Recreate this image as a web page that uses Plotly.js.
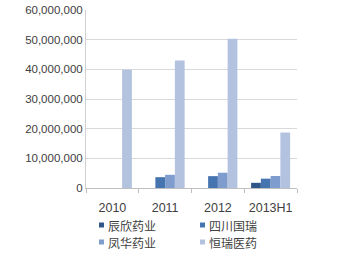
<!DOCTYPE html>
<html>
<head>
<meta charset="utf-8">
<script src="https://cdn.plot.ly/plotly-3.0.1.min.js"></script>
<style>html,body{margin:0;padding:0;background:#fff;}#chart{width:357px;height:257px;}</style>
</head>
<body>
<div id="chart"></div>
<script>
var categories = ["2010", "2011", "2012", "2013H1"];
var seriesNames = ["辰欣药业", "四川国瑞", "凤华药业", "恒瑞医药"];
var chenxin = [null, null, null, 1750000];
var sichuan = [null, 3650000, 4000000, 3150000];
var fenghua = [null, 4450000, 5150000, 4050000];
var hengrui = [39900000, 43000000, 50300000, 18700000];
var colors = ["#2f5689", "#4674b0", "#7e9ccd", "#b3c2df"];
var values = [chenxin, sichuan, fenghua, hengrui];

var W = 357, H = 257;
var M = { l: 86, r: 60, t: 10, b: 69 };
var pw = W - M.l - M.r, ph = H - M.t - M.b;
function px2x(p) { return (p - M.l) / pw; }
function px2y(p) { return (H - M.b - p) / ph; }

var traces = values.map(function (v, i) {
  return {
    type: "bar",
    x: categories,
    y: v,
    name: seriesNames[i],
    marker: { color: colors[i] },
    hoverinfo: "none",
    showlegend: false
  };
});

// legend (2 columns) built from seriesNames / colors
var legendCols = [99, 200], legendRows = [225, 242];
var shapes = [], annotations = [];
seriesNames.forEach(function (name, i) {
  var cx = legendCols[i % 2], cy = legendRows[Math.floor(i / 2)];
  shapes.push({
    type: "rect", xref: "paper", yref: "paper",
    xsizemode: "pixel", ysizemode: "pixel",
    xanchor: px2x(cx), yanchor: px2y(cy),
    x0: 0, x1: 5, y0: -2.5, y1: 2.5,
    fillcolor: colors[i], line: { width: 0 }
  });
  annotations.push({
    xref: "paper", yref: "paper",
    x: px2x(cx + 8), y: px2y(cy),
    xanchor: "left", yanchor: "middle",
    text: name, showarrow: false, borderpad: 0,
    font: { family: "Noto Sans CJK SC, sans-serif", size: 12, color: "#404040" }
  });
});

var layout = {
  width: W,
  height: H,
  margin: M,
  paper_bgcolor: "#ffffff",
  plot_bgcolor: "#ffffff",
  barmode: "group",
  bargap: 0.26,
  bargroupgap: 0,
  font: { family: "Liberation Sans, Arial, sans-serif", size: 11, color: "#404040" },
  xaxis: {
    type: "category",
    showline: true,
    linecolor: "#bfbfbf",
    linewidth: 1,
    ticks: "outside",
    tickson: "boundaries",
    ticklen: 4,
    tickcolor: "#bfbfbf",
    showgrid: false,
    tickangle: 0,
    tickfont: { size: 12.5, color: "#404040" },
    ticklabelstandoff: 8,
    automargin: false
  },
  yaxis: {
    range: [0, 60000000],
    dtick: 10000000,
    tickformat: ",d",
    showline: true,
    linecolor: "#d0d0d0",
    linewidth: 1,
    showgrid: true,
    gridcolor: "#d9d9d9",
    zeroline: false,
    ticks: "",
    ticklen: 0,
    tickfont: { size: 11.5, color: "#404040" },
    automargin: false
  },
  showlegend: false,
  shapes: shapes,
  annotations: annotations
};

Plotly.newPlot("chart", traces, layout, { staticPlot: true, displayModeBar: false });
</script>
</body>
</html>
